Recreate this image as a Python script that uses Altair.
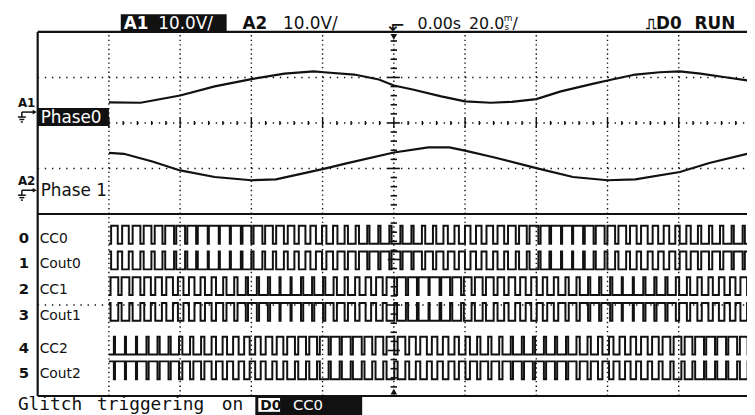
import altair as alt
import pandas as pd

# ---------------- screen geometry ----------------
# x: time in ms (20 ms/div, 0 = trigger point); y: screen divisions (0 = bottom edge, 8 = top edge)
W, H = 747, 407
PX_PER_MS = 3.6
PX_PER_DIV = 46.0
X0_PAGE, Y0_PAGE = 398, 398      # page pixel of t=0 and of division 0


def px_t(x):
    return (x - X0_PAGE) / PX_PER_MS


def py_v(y):
    return (Y0_PAGE - y) / PX_PER_DIV


X_DOMAIN = [px_t(8), px_t(8 + W)]
Y_DOMAIN = [py_v(8 + H), py_v(8)]
XS = alt.Scale(domain=X_DOMAIN, nice=False, zero=False)
YS = alt.Scale(domain=Y_DOMAIN, nice=False, zero=False)

# ---------------- data read from the screen ----------------
# analog channels (10 V/div)
phase0_t = [-80.0, -71.1, -60.0, -50.3, -40.0, -30.7, -22.5, -19.7, -11.1, -4.2, 0.0, 5.3, 13.3,
            20.0, 27.2, 33.1, 40.0, 46.9, 56.1, 60.0, 67.8, 74.7, 80.3, 86.1, 93.1, 99.2]
phase0_volts = [2.8, 2.7, 4.3, 6.3, 7.9, 9.1, 9.6, 9.4, 8.9, 7.8, 6.5, 5.6, 4.1,
                3.0, 2.7, 2.9, 3.5, 5.2, 6.9, 7.6, 8.9, 9.4, 9.6, 9.1, 8.3, 7.6]
phase1_t = [-80.0, -75.8, -67.8, -60.0, -50.3, -40.0, -33.1, -19.7, -13.3, 0.0, 9.7, 15.6,
            20.0, 28.3, 40.0, 50.3, 60.0, 67.8, 80.3, 88.6, 99.2]
phase1_volts = [8.2, 8.0, 6.3, 4.35, 2.9, 2.2, 2.4, 4.7, 5.9, 8.3, 9.4, 9.4,
                8.7, 7.2, 4.85, 2.9, 2.2, 2.4, 4.0, 6.0, 8.0]

# digital channels: duty (tenths of a PWM period) of each successive period
pwm_start_ms = -80.0
pwm_period_ms = 3.1
cc0_duty = [6, 6, 7, 7, 7, 8, 8, 8, 9, 9, 9, 9, 8, 8, 7, 7, 6, 6, 5, 4, 4, 3, 3, 2, 2, 2, 2, 2, 3,
            3, 4, 4, 5, 5, 6, 6, 7, 7, 8, 8, 9, 9, 9, 8, 8, 7, 7, 6, 6, 5, 5, 4, 4, 3, 3, 3, 2, 2]
cout0_duty = [4, 4, 3, 3, 3, 2, 2, 2, 1, 1, 1, 1, 2, 2, 3, 3, 4, 4, 5, 6, 6, 7, 7, 8, 8, 8, 8, 8, 7,
              7, 6, 6, 5, 5, 4, 4, 3, 3, 2, 2, 1, 1, 1, 2, 2, 3, 3, 4, 4, 5, 5, 6, 6, 7, 7, 7, 8, 8]
cc1_duty = [7, 7, 7, 6, 6, 6, 5, 5, 4, 4, 3, 3, 2, 2, 2, 1, 1, 2, 2, 2, 3, 3, 4, 5, 6, 7, 8, 8, 9,
            9, 8, 8, 7, 7, 7, 6, 6, 5, 5, 4, 4, 3, 3, 2, 2, 2, 1, 1, 2, 2, 2, 3, 3, 4, 4, 5, 5, 6]
cout1_duty = [3, 3, 3, 4, 4, 4, 5, 5, 6, 6, 7, 7, 8, 8, 8, 9, 9, 8, 8, 8, 7, 7, 6, 5, 4, 3, 2, 2, 1,
              1, 2, 2, 3, 3, 3, 4, 4, 5, 5, 6, 6, 7, 7, 8, 8, 8, 9, 9, 8, 8, 8, 7, 7, 6, 6, 5, 5, 4]
cc2_duty = [1, 1, 1, 2, 2, 2, 3, 3, 3, 4, 4, 5, 5, 5, 6, 6, 7, 7, 7, 8, 8, 8, 8, 7, 7, 7, 7, 6, 6,
            5, 5, 4, 4, 3, 3, 3, 2, 2, 2, 2, 2, 2, 3, 3, 4, 4, 5, 5, 6, 6, 7, 7, 7, 8, 8, 8, 8, 7]
cout2_duty = [9, 9, 9, 8, 8, 8, 7, 7, 7, 6, 6, 5, 5, 5, 4, 4, 3, 3, 3, 2, 2, 2, 2, 3, 3, 3, 3, 4, 4,
              5, 5, 6, 6, 7, 7, 7, 8, 8, 8, 8, 8, 8, 7, 7, 6, 6, 5, 5, 4, 4, 3, 3, 3, 2, 2, 2, 2, 3]

digital_numbers = ["0", "1", "2", "3", "4", "5"]
digital_names = ["CC0", "Cout0", "CC1", "Cout1", "CC2", "Cout2"]
digital_duties = [cc0_duty, cout0_duty, cc1_duty, cout1_duty, cc2_duty, cout2_duty]
digital_centred = [True, False, True, False, True, False]

# ---------------- layout (page pixels) ----------------
ROW_Y = [(226, 244), (252, 270), (278, 296), (304, 322), (338, 356), (363, 381)]
A1_GROUND_V = py_v(114)
A2_GROUND_V = py_v(190)
BLACK = "#111111"


def X(f="t"):
    return alt.X(f"{f}:Q", scale=XS, axis=None)


def Y(f="v"):
    return alt.Y(f"{f}:Q", scale=YS, axis=None)


layers = []

# ---------- grid ----------
vgrid = pd.DataFrame({"t": [-80, -60, -40, -20, 0, 20, 40, 60, 80]})
vgrid["v1"], vgrid["v2"] = 0.0, 8.0
layers.append(alt.Chart(vgrid).mark_rule(color=BLACK, strokeWidth=1.4, strokeDash=[1.4, 3.2])
              .encode(x=X(), y=Y("v1"), y2="v2"))

hgrid = pd.DataFrame({"v": [7.0, 6.0, 5.0, 2.0]})
hgrid["t1"], hgrid["t2"] = -100.0, 100.0
layers.append(alt.Chart(hgrid).mark_rule(color=BLACK, strokeWidth=1.4, strokeDash=[1.4, 5.8])
              .encode(y=Y(), x=X("t1"), x2="t2"))

# ticks on centre horizontal line (v=6)
ht = [i * 4 for i in range(-25, 26)]
hticks = pd.DataFrame({"t": ht})
hticks["half"] = [0.11 if t % 20 == 0 else 0.045 for t in ht]
hticks["v1"] = 6 - hticks["half"]
hticks["v2"] = 6 + hticks["half"]
layers.append(alt.Chart(hticks).mark_rule(color=BLACK, strokeWidth=1.4)
              .encode(x=X(), y=Y("v1"), y2="v2"))

# ticks on centre vertical line (t=0)
vt = [i / 5 for i in range(0, 41)]
vticks = pd.DataFrame({"v": vt})
vticks["half"] = [1.7 if abs(v - round(v)) < 1e-6 else 0.9 for v in vt]
vticks["t1"] = -vticks["half"]
vticks["t2"] = vticks["half"]
layers.append(alt.Chart(vticks).mark_rule(color=BLACK, strokeWidth=1.6)
              .encode(y=Y(), x=X("t1"), x2="t2"))

# ---------- analog traces ----------
a0 = pd.DataFrame({"t": phase0_t, "volts": phase0_volts})
a0["v"] = A1_GROUND_V + a0["volts"] / 10
a1 = pd.DataFrame({"t": phase1_t, "volts": phase1_volts})
a1["v"] = A2_GROUND_V + a1["volts"] / 10
for d in (a0, a1):
    layers.append(alt.Chart(d).mark_line(color=BLACK, strokeWidth=2.2, interpolate="linear")
                  .encode(x=X(), y=Y(), order="t:Q"))

# ---------- digital traces ----------
rows = []
P = pwm_period_ms
for r, (name, duties, centred) in enumerate(zip(digital_names, digital_duties, digital_centred)):
    hi, lo = py_v(ROW_Y[r][0]), py_v(ROW_Y[r][1])
    pts = []
    for k, d in enumerate(duties):
        t0 = pwm_start_ms + k * P
        f = d / 10
        if centred:
            pts += [(t0, 0), (t0 + (1 - f) / 2 * P, 1), (t0 + (1 + f) / 2 * P, 0)]
        else:
            pts += [(t0, 1), (t0 + f / 2 * P, 0), (t0 + (1 - f / 2) * P, 1)]
    pts.append((pwm_start_ms + len(duties) * P, pts[-1][1]))
    for i, (t, lev) in enumerate(pts):
        rows.append({"ch": name, "i": i, "t": t, "v": lo + lev * (hi - lo)})
dig = pd.DataFrame(rows)
layers.append(alt.Chart(dig).mark_line(color=BLACK, strokeWidth=2.0, interpolate="step-after")
              .encode(x=X(), y=Y(), detail="ch:N", order="i:Q"))

# ---------- frame ----------
frame = pd.DataFrame({
    "t1": [-100.0, -100.0, -100.0, -100.0],
    "t2": [-100.0, 110.0, 110.0, 110.0],
    "v1": [0.0, 8.0, 4.0, 0.0],
    "v2": [8.0, 8.0, 4.0, 0.0],
})
layers.append(alt.Chart(frame).mark_rule(color=BLACK, strokeWidth=2.2)
              .encode(x=X("t1"), x2="t2", y=Y("v1"), y2="v2"))


def symbol(x, y, shape, size):
    d = pd.DataFrame({"t": [px_t(x)], "v": [py_v(y)]})
    return alt.Chart(d).mark_point(shape=shape, filled=True, color=BLACK, size=size, opacity=1).encode(x=X(), y=Y())


# trigger markers
layers.append(symbol(398, 35, "triangle-down", 45))
layers.append(symbol(398, 393.5, "triangle-up", 45))

# channel ground markers (arrow + earth symbol) for A1 and A2
segs = []
for gx, gy in [(22, 111), (22, 190)]:
    segs += [
        (gx, gx, gy, gy + 5),              # stem
        (gx, gx + 12, gy, gy),             # arrow shaft
        (gx - 4, gx + 4, gy + 5, gy + 5),  # earth lines
        (gx - 2.5, gx + 2.5, gy + 7.5, gy + 7.5),
        (gx - 1, gx + 1, gy + 10, gy + 10),
    ]
gm = pd.DataFrame({
    "t1": [px_t(s[0]) for s in segs], "t2": [px_t(s[1]) for s in segs],
    "v1": [py_v(s[2]) for s in segs], "v2": [py_v(s[3]) for s in segs],
})
layers.append(alt.Chart(gm).mark_rule(color=BLACK, strokeWidth=1.5)
              .encode(x=X("t1"), x2="t2", y=Y("v1"), y2="v2"))
layers.append(symbol(35, 111, "triangle-right", 22))
layers.append(symbol(35, 190, "triangle-right", 22))


# ---------- boxes ----------
def box(x1, x2, y1, y2, color=BLACK):
    d = pd.DataFrame({"t1": [px_t(x1)], "t2": [px_t(x2)], "v1": [py_v(y1)], "v2": [py_v(y2)]})
    return alt.Chart(d).mark_rect(color=color, opacity=1).encode(x=X("t1"), x2="t2", y=Y("v1"), y2="v2")


layers.append(box(122, 229, 12, 29))      # A1 header
layers.append(box(38, 110, 107, 125))     # Phase0 label
layers.append(box(258, 366, 398, 420))    # D0 CC0 footer
layers.append(box(261, 283, 400, 414, "white"))


# ---------- text ----------
def label(x, y, s, size=14, bold=False, color=BLACK, font="DejaVu Sans", align="left", baseline="alphabetic"):
    d = pd.DataFrame({"t": [px_t(x)], "v": [py_v(y)], "s": [s]})
    return alt.Chart(d).mark_text(font=font, fontSize=size, fontWeight="bold" if bold else "normal",
                                  color=color, align=align, baseline=baseline).encode(x=X(), y=Y(), text="s:N")


# header
layers.append(label(125, 27, "A1", 17, True, "white"))
layers.append(label(160, 27, "10.0V/", 17, False, "white"))
layers.append(label(245, 27, "A2", 17, True))
layers.append(label(286, 27, "10.0V/", 17, False))
layers.append(label(392, 29, "\u2B10", 20, False))
layers.append(label(422, 27, "0.00s", 16, False))
layers.append(label(474, 27, "20.0", 16, False))
layers.append(label(509, 19, "m", 9, False))
layers.append(label(510, 28, "s", 9, False))
layers.append(label(518, 27, "/", 16, False))
layers.append(label(653, 27, "\u238D", 15, True))
layers.append(label(663, 27, "D0", 17, True))
layers.append(label(702, 27, "RUN", 17, True))

# analog labels
layers.append(label(18, 106, "A1", 12, True))
layers.append(label(41, 122, "Phase0", 17, False, "white"))
layers.append(label(18, 185, "A2", 12, True))
layers.append(label(41, 196, "Phase 1", 17, False))

# digital labels
for r in range(6):
    base = ROW_Y[r][1] - 1
    layers.append(label(24, base, digital_numbers[r], 15, True, align="center"))
    layers.append(label(40, base, digital_names[r], 14, False))

# footer
layers.append(label(18, 412, "Glitch", 18, False, font="DejaVu Sans Mono"))
layers.append(label(98, 412, "triggering", 18, False, font="DejaVu Sans Mono"))
layers.append(label(224, 412, "on", 18, False, font="DejaVu Sans Mono"))
layers.append(label(263, 412, "D0", 14, True))
layers.append(label(296, 412, "CC0", 15, False, "white"))

chart = alt.layer(*layers).properties(
    width=W, height=H, padding=0,
    autosize=alt.AutoSizeParams(type="none"),
).configure_view(stroke=None)

chart.save("out.html", embed_options={"renderer": "svg", "actions": False})
